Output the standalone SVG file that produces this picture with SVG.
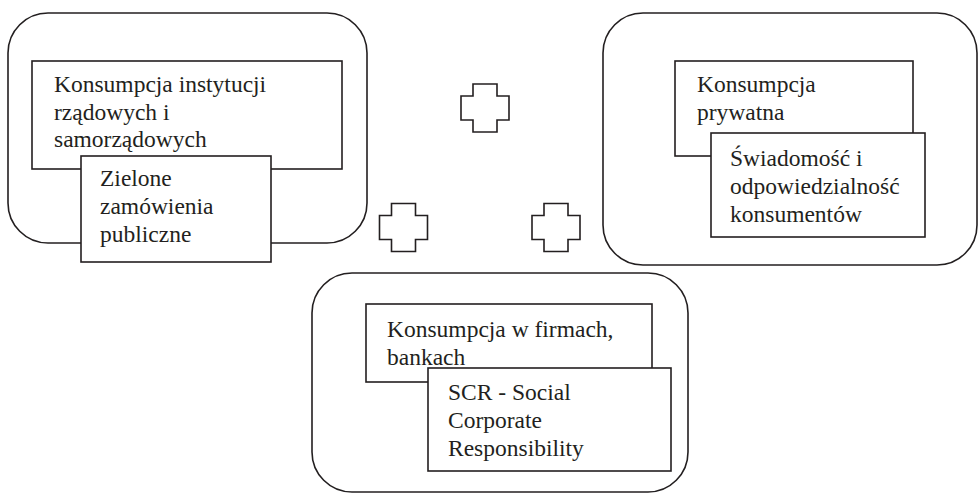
<svg xmlns="http://www.w3.org/2000/svg" width="979" height="497" viewBox="0 0 979 497">
<style>
.outer{fill:#fff;stroke:#231f20;stroke-width:1.6}
.box{fill:#fff;stroke:#231f20;stroke-width:1.6}
.plus{fill:#fff;stroke:#231f20;stroke-width:1.6}
text{font-family:"Liberation Serif","Times New Roman",serif;font-size:23.5px;fill:#231f20}
</style>
<defs>
<path id="plus" d="M-12,-24 H12 V-12 H24 V12 H12 V24 H-12 V12 H-24 V-12 H-12 Z"/>
</defs>
<g id="group-government">
<rect class="outer" x="8" y="13" width="359" height="230" rx="40" ry="40"/>
<g id="node-gov-consumption">
<rect class="box" x="32" y="61" width="310" height="108"/>
<text x="54" y="92">Konsumpcja instytucji</text>
<text x="54" y="120">rządowych i</text>
<text x="54" y="147">samorządowych</text>
</g>
<g id="node-green-procurement">
<rect class="box" x="81" y="156" width="190" height="106"/>
<text x="100" y="186">Zielone</text>
<text x="100" y="214">zamówienia</text>
<text x="100" y="242">publiczne</text>
</g>
</g>
<g id="group-private">
<rect class="outer" x="603" y="13" width="374" height="252" rx="40" ry="40"/>
<g id="node-private-consumption">
<rect class="box" x="675" y="61" width="238" height="95"/>
<text x="697" y="92">Konsumpcja</text>
<text x="697" y="120">prywatna</text>
</g>
<g id="node-awareness">
<rect class="box" x="711" y="133" width="214" height="104"/>
<text x="730" y="166">Świadomość i</text>
<text x="730" y="194">odpowiedzialność</text>
<text x="730" y="222">konsumentów</text>
</g>
</g>
<g id="group-business">
<rect class="outer" x="312" y="273" width="376" height="219" rx="40" ry="40"/>
<g id="node-business-consumption">
<rect class="box" x="366" y="304" width="286" height="78"/>
<text x="387" y="337">Konsumpcja w firmach,</text>
<text x="387" y="365">bankach</text>
</g>
<g id="node-csr">
<rect class="box" x="428" y="368" width="243" height="103"/>
<text x="448" y="400">SCR - Social</text>
<text x="448" y="428">Corporate</text>
<text x="448" y="456">Responsibility</text>
</g>
</g>
<g id="connectors">
<use href="#plus" class="plus" x="485" y="108"/>
<use href="#plus" class="plus" x="403.5" y="227.5"/>
<use href="#plus" class="plus" x="556" y="227.5"/>
</g>
</svg>
